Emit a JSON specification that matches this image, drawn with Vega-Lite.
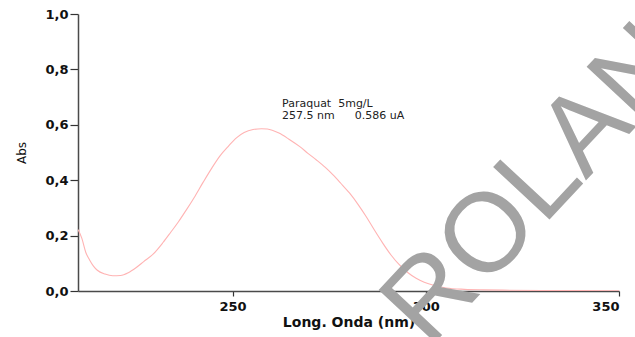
{
  "$schema": "https://vega.github.io/schema/vega-lite/v6.json",
  "width": 541,
  "height": 277,
  "autosize": "none",
  "padding": {"left": 78, "top": 14, "right": 16, "bottom": 46},
  "background": "white",
  "config": {
    "view": {"stroke": null},
    "axis": {"grid": false, "domainColor": "#4a4a4a", "domainWidth": 1.5, "tickColor": "#333", "tickWidth": 1.2,
      "labelFont": "DejaVu Sans", "labelFontWeight": "bold", "labelFontSize": 13, "labelColor": "#111",
      "titleColor": "#111"}
  },
  "datasets": {
    "spectrum": [
      {"nm": 210, "abs": 0.222}, {"nm": 211, "abs": 0.19}, {"nm": 212, "abs": 0.14}, {"nm": 213, "abs": 0.112},
      {"nm": 214, "abs": 0.09}, {"nm": 215, "abs": 0.075}, {"nm": 217, "abs": 0.061}, {"nm": 219, "abs": 0.055},
      {"nm": 221, "abs": 0.056}, {"nm": 223, "abs": 0.066}, {"nm": 225, "abs": 0.084}, {"nm": 227, "abs": 0.106},
      {"nm": 229.5, "abs": 0.134}, {"nm": 232, "abs": 0.175}, {"nm": 234, "abs": 0.212}, {"nm": 236, "abs": 0.25},
      {"nm": 238, "abs": 0.292}, {"nm": 240, "abs": 0.336}, {"nm": 242.4, "abs": 0.393}, {"nm": 244.5, "abs": 0.441},
      {"nm": 246.7, "abs": 0.487}, {"nm": 249, "abs": 0.524}, {"nm": 251, "abs": 0.553}, {"nm": 253, "abs": 0.572},
      {"nm": 255.3, "abs": 0.583}, {"nm": 257.5, "abs": 0.586}, {"nm": 259, "abs": 0.585}, {"nm": 262, "abs": 0.57},
      {"nm": 264.5, "abs": 0.549}, {"nm": 267.4, "abs": 0.521}, {"nm": 269.5, "abs": 0.497}, {"nm": 271.7, "abs": 0.473},
      {"nm": 274, "abs": 0.446}, {"nm": 276, "abs": 0.419}, {"nm": 278, "abs": 0.389}, {"nm": 280.3, "abs": 0.353},
      {"nm": 282.5, "abs": 0.312}, {"nm": 284.6, "abs": 0.268}, {"nm": 286.7, "abs": 0.22}, {"nm": 288.9, "abs": 0.172},
      {"nm": 291, "abs": 0.13}, {"nm": 293.2, "abs": 0.094}, {"nm": 295.4, "abs": 0.066}, {"nm": 297.5, "abs": 0.046},
      {"nm": 299.6, "abs": 0.032}, {"nm": 301.8, "abs": 0.022}, {"nm": 305.3, "abs": 0.011}, {"nm": 310, "abs": 0.006},
      {"nm": 315, "abs": 0.004}, {"nm": 320, "abs": 0.003}, {"nm": 330, "abs": 0.002}, {"nm": 340, "abs": 0.002},
      {"nm": 350, "abs": 0.001}
    ],
    "notes": [
      {"nm": 262.8, "abs": 0.663, "label": "Paraquat\u00a0 5mg/L"},
      {"nm": 262.8, "abs": 0.62, "label": "257.5 nm"},
      {"nm": 281.6, "abs": 0.62, "label": "0.586 uA"}
    ],
    "mark": [
      {"nm": 335.5, "abs": 0.49, "label": "ROLAND"}
    ]
  },
  "layer": [
    {
      "data": {"name": "spectrum"},
      "mark": {"type": "line", "color": "#ffb3b3", "strokeWidth": 1.1, "interpolate": "monotone", "clip": true},
      "encoding": {
        "x": {"field": "nm", "type": "quantitative",
          "scale": {"domain": [210, 350], "nice": false, "zero": false},
          "axis": {"values": [250, 300, 350], "title": "Long. Onda (nm)", "titleFont": "DejaVu Sans", "titleFontWeight": "bold",
            "titleFontSize": 14, "titlePadding": 2, "tickSize": 5, "labelPadding": 4}},
        "y": {"field": "abs", "type": "quantitative",
          "scale": {"domain": [0, 1], "nice": false},
          "axis": {"values": [0, 0.2, 0.4, 0.6, 0.8, 1.0], "title": "Abs", "titleFont": "DejaVu Sans", "titleFontWeight": "normal",
            "titleFontSize": 12, "titlePadding": 16, "tickSize": 8, "labelPadding": 2,
            "labelExpr": "replace(format(datum.value, '.1f'), '.', ',')"}}
      }
    },
    {
      "data": {"name": "notes"},
      "mark": {"type": "text", "align": "left", "baseline": "alphabetic", "font": "DejaVu Sans", "fontSize": 11, "color": "#222"},
      "encoding": {
        "x": {"field": "nm", "type": "quantitative"},
        "y": {"field": "abs", "type": "quantitative"},
        "text": {"field": "label"}
      }
    },
    {
      "data": {"name": "mark"},
      "mark": {"type": "text", "align": "center", "baseline": "middle", "font": "Liberation Sans", "fontSize": 112, "angle": -47, "color": "#a3a3a3"},
      "encoding": {
        "x": {"field": "nm", "type": "quantitative"},
        "y": {"field": "abs", "type": "quantitative"},
        "text": {"field": "label"}
      }
    }
  ]
}
